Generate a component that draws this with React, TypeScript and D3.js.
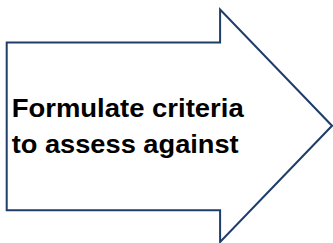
import React from "react";
import * as d3 from "d3";

const W = 333;
const H = 243;

// Arrow outline vertices in shape units (x: 0..100 shaft/head, y: 0..100)
const outlineX = [0, 65.6, 65.6, 100, 65.6, 65.6, 0];
const outlineY = [14.2, 14.2, 0, 50, 100, 86.3, 86.3];
const labelLines = ["Formulate criteria", "to assess against"];
const labelWidths = [232, 227];

export default function App() {
  const x = d3.scaleLinear().domain([0, 100]).range([6.7, 332]);
  const y = d3.scaleLinear().domain([0, 100]).range([9.5, 242]);
  const pts: [number, number][] = outlineX.map((v, i) => [x(v), y(outlineY[i])]);
  const path = d3.line()(pts) + "Z";
  return (
    <svg
      width={W}
      height={H}
      style={{ position: "absolute", left: 0, top: 0, display: "block" }}
    >
      <rect width={W} height={H} fill="#ffffff" />
      <path d={path} fill="#ffffff" stroke="#1F3D69" strokeWidth={2} strokeLinejoin="miter" />
      {labelLines.map((t, i) => (
        <text
          key={i}
          x={11.7}
          y={117.3 + i * 36}
          fontFamily="'Liberation Sans', Arial, sans-serif"
          fontWeight="bold"
          fontSize={25}
          fill="#000000"
          textLength={labelWidths[i]}
          lengthAdjust="spacingAndGlyphs"
        >
          {t}
        </text>
      ))}
    </svg>
  );
}
